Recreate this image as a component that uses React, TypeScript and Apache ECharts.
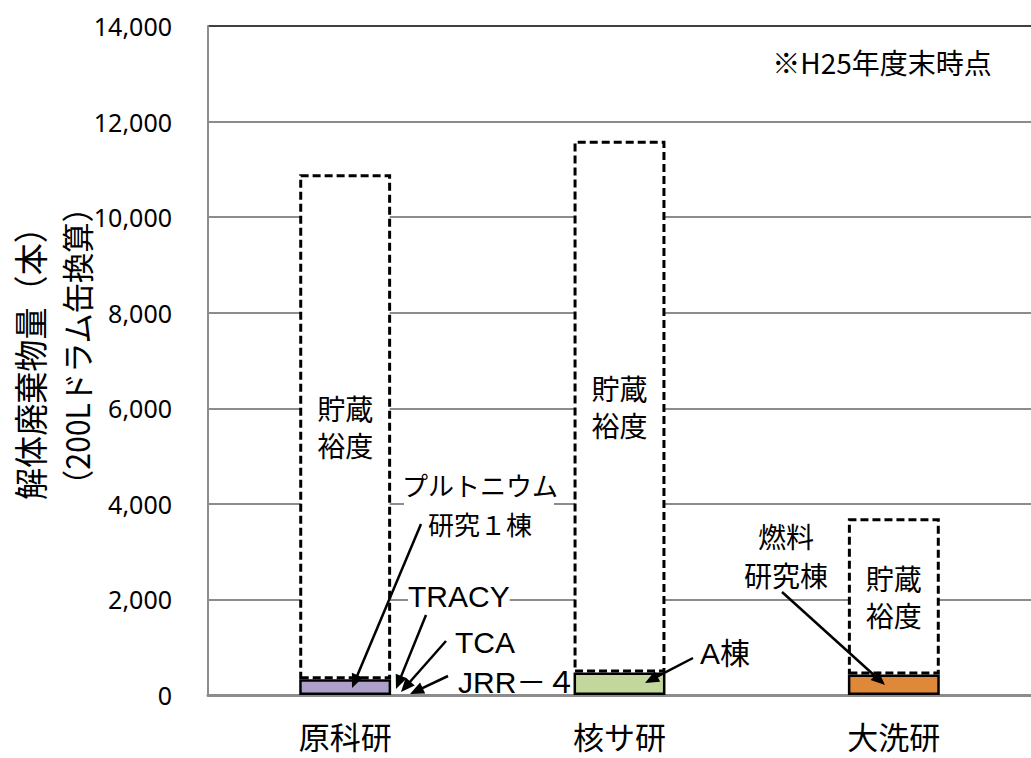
import React, { useEffect, useRef } from "react";
import * as echarts from "echarts";

const categories = ["原科研", "核サ研", "大洗研"];
const wasteAmount = [330, 470, 430];
const storageMargin = [10570, 11130, 3270];
const wasteColors = ["#ae9fc9", "#c3d69b", "#e0883a"];
const yTicks = [0, 2000, 4000, 6000, 8000, 10000, 12000, 14000];

const JP = '"Noto Sans CJK JP"';
const LAT = '"Liberation Sans", "Noto Sans CJK JP"';

function arrow(x1: number, y1: number, x2: number, y2: number) {
  const dx = x2 - x1;
  const dy = y2 - y1;
  const len = Math.sqrt(dx * dx + dy * dy);
  const ux = dx / len;
  const uy = dy / len;
  const hl = 14;
  const hw = 6;
  const bx = x2 - ux * hl;
  const by = y2 - uy * hl;
  return {
    type: "group",
    z: 110,
    children: [
      {
        type: "line",
        z: 110,
        shape: { x1, y1, x2: bx + ux * 2, y2: by + uy * 2 },
        style: { stroke: "#000", lineWidth: 2.5 },
      },
      {
        type: "polygon",
        z: 110,
        shape: {
          points: [
            [x2, y2],
            [bx - uy * hw, by + ux * hw],
            [bx + uy * hw, by - ux * hw],
          ],
        },
        style: { fill: "#000" },
      },
    ],
  };
}

function txt(
  text: string,
  x: number,
  y: number,
  font: string,
  align: string,
  opts: any = {}
) {
  return {
    type: "text",
    x,
    y,
    z: 101,
    rotation: opts.rotation || 0,
    scaleX: opts.scaleX || 1,
    scaleY: opts.scaleY || 1,
    style: {
      text,
      font,
      fill: "#000",
      align,
      textAlign: align,
      verticalAlign: "middle",
      textVerticalAlign: "middle",
      lineHeight: opts.lineHeight,
      backgroundColor: opts.bg,
    },
  };
}

export default function App() {
  const ref = useRef<HTMLDivElement>(null);
  useEffect(() => {
    document.body.style.margin = "0";
    const chart = echarts.init(ref.current!, null, { renderer: "svg" });
    const splitColors = yTicks.map((_, i) =>
      i === yTicks.length - 1 ? "#404040" : "#8c8c8c"
    );
    chart.setOption({
      animation: false,
      backgroundColor: "#fff",
      grid: { left: 208, top: 26, width: 834, height: 669, containLabel: false },
      xAxis: {
        type: "category",
        data: categories,
        axisLine: { show: true, lineStyle: { color: "#8c8c8c", width: 3 } },
        axisTick: { show: false },
        axisLabel: {
          color: "#000",
          fontSize: 31,
          lineHeight: 31,
          fontFamily: JP,
          margin: 25,
        },
      },
      yAxis: {
        type: "value",
        min: 0,
        max: 14000,
        interval: 2000,
        axisLine: { show: true, lineStyle: { color: "#8c8c8c", width: 2 } },
        axisTick: { show: false },
        splitLine: { show: true, lineStyle: { color: splitColors, width: 2 } },
        axisLabel: {
          color: "#000",
          fontSize: 25,
          fontFamily: '"Noto Sans"',
          margin: 36,
          formatter: (v: number) => v.toLocaleString("en-US"),
        },
      },
      series: [
        {
          type: "bar",
          stack: "total",
          barWidth: "33.5%",
          data: wasteAmount.map((v, i) => ({
            value: v,
            itemStyle: { color: wasteColors[i] },
          })),
          itemStyle: { borderColor: "#000", borderWidth: 2.5 },
          z: 2,
        },
        {
          type: "bar",
          stack: "total",
          barWidth: "33.5%",
          data: storageMargin,
          itemStyle: {
            color: "#fff",
            borderColor: "#000",
            borderWidth: 3,
            borderType: [8, 4],
          },
          label: {
            show: true,
            position: "inside",
            formatter: "貯蔵\n裕度",
            color: "#000",
            fontSize: 28,
            fontFamily: JP,
            lineHeight: 37,
          },
          z: 3,
        },
      ],
      graphic: [
        {
          type: "rect",
          z: 100,
          shape: { x: 404, y: 470, width: 150, height: 68 },
          style: { fill: "#fff" },
        },
        txt("解体廃棄物量（本）", 29, 500, `30px ${JP}`, "left", {
          rotation: Math.PI / 2,
          scaleX: 1.07,
          scaleY: 1.15,
        }),
        txt("（200Lドラム缶換算）", 76, 500, `28px ${JP}`, "left", {
          rotation: Math.PI / 2,
          scaleX: 1.08,
          scaleY: 1.15,
        }),
        txt("※H25年度末時点", 882, 62, `28px ${JP}`, "center"),
        txt("プルトニウム", 480, 484, `26px ${JP}`, "center", {
          lineHeight: 30,
        }),
        txt("研究１棟", 480, 523, `26px ${JP}`, "center", {
          lineHeight: 30,
        }),
        txt("TRACY", 408, 596, `30px ${LAT}`, "left", { bg: "#fff" }),
        txt("TCA", 455, 642, `30px ${LAT}`, "left"),
        txt("JRR－４", 458, 682, `30px ${LAT}`, "left"),
        txt("A棟", 700, 653, `30px ${LAT}`, "left"),
        txt("燃料", 786, 536, `28px ${JP}`, "center", { lineHeight: 32 }),
        txt("研究棟", 786, 575, `28px ${JP}`, "center", { lineHeight: 32 }),
        arrow(421, 524, 352, 688),
        arrow(426, 615, 396, 689),
        arrow(446, 641, 401, 692),
        arrow(448, 676, 410, 694),
        arrow(693, 658, 645, 683),
        arrow(782, 592, 885, 685),
      ],
    });
    return () => chart.dispose();
  }, []);
  return <div ref={ref} style={{ width: 1031, height: 758 }} />;
}
